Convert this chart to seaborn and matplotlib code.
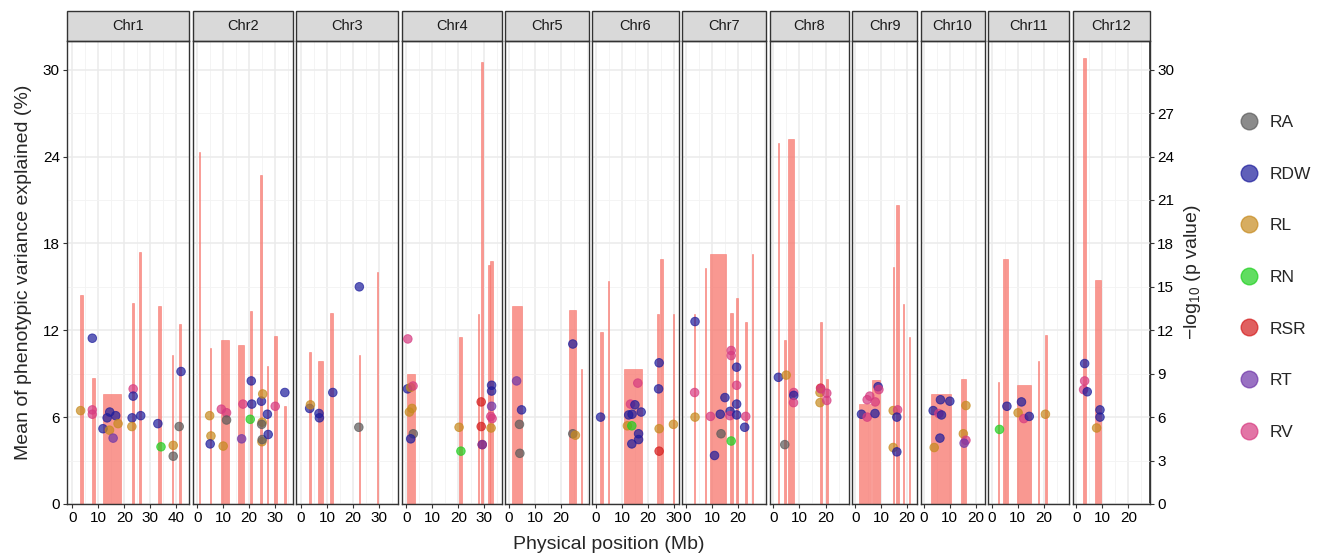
import numpy as np
import pandas as pd
import matplotlib
matplotlib.use("Agg")
import matplotlib.pyplot as plt
from matplotlib.patches import Rectangle
from matplotlib.lines import Line2D
from matplotlib.ticker import MultipleLocator
import seaborn as sns

# chromosomes and their length (Mb)
chroms = ["Chr1", "Chr2", "Chr3", "Chr4", "Chr5", "Chr6",
          "Chr7", "Chr8", "Chr9", "Chr10", "Chr11", "Chr12"]
chrom_len = [42.8, 35.1, 35.6, 35.0, 29.1, 30.4, 29.4, 27.6, 22.7, 22.4, 28.4, 27.0]

# QTL intervals: start / end (Mb) and -log10(p)
qtl_chr = (["Chr1"] * 8 + ["Chr2"] * 9 + ["Chr3"] * 5 + ["Chr4"] * 6 + ["Chr5"] * 3
           + ["Chr6"] * 6 + ["Chr7"] * 7 + ["Chr8"] * 5 + ["Chr9"] * 6 + ["Chr10"] * 2
           + ["Chr11"] * 5 + ["Chr12"] * 2)
qtl_start = [3.0, 7.6, 12.0, 23.0, 25.7, 32.8, 38.4, 41.1,
             0.6, 4.9, 9.0, 15.7, 20.4, 24.3, 26.9, 29.7, 33.4,
             2.9, 6.7, 11.3, 22.1, 29.0,
             0.1, 20.3, 27.5, 28.8, 31.6, 32.3,
             1.0, 23.2, 27.8,
             1.5, 4.5, 10.8, 23.4, 24.6, 29.5,
             3.0, 7.3, 9.0, 16.8, 19.1, 22.5, 25.2,
             1.6, 4.2, 5.7, 17.9, 20.0,
             1.3, 6.3, 14.7, 15.5, 18.3, 20.8,
             2.7, 14.5,
             2.2, 4.2, 9.7, 17.7, 20.5,
             2.4, 7.0]
qtl_end = [4.0, 8.6, 18.8, 23.8, 26.6, 34.1, 38.9, 41.9,
           1.2, 5.5, 12.2, 18.1, 21.2, 25.0, 27.4, 30.5, 34.0,
           3.7, 8.6, 12.3, 22.8, 29.5,
           3.4, 21.3, 28.0, 29.6, 32.3, 33.3,
           5.1, 25.6, 28.2,
           2.8, 5.0, 17.8, 24.3, 25.8, 30.2,
           3.5, 7.7, 15.4, 17.9, 20.0, 23.2, 25.6,
           2.0, 5.0, 7.8, 18.7, 21.0,
           5.9, 9.5, 15.1, 16.8, 18.8, 21.2,
           10.6, 16.5,
           2.9, 6.3, 15.0, 18.3, 21.4,
           3.8, 9.5]
qtl_logp = [14.4, 8.7, 7.6, 13.9, 17.4, 13.7, 10.3, 12.4,
            24.3, 10.8, 11.3, 11.0, 13.3, 22.7, 9.5, 11.6, 6.8,
            10.5, 9.9, 13.2, 10.3, 16.0,
            8.95, 11.55, 13.1, 30.5, 16.5, 16.75,
            13.65, 13.4, 9.3,
            11.85, 15.4, 9.3, 13.1, 16.95, 13.1,
            13.1, 16.3, 17.3, 13.2, 14.2, 12.6, 17.3,
            24.9, 11.35, 25.2, 12.55, 8.6,
            6.9, 8.55, 16.4, 20.65, 13.8, 11.55,
            7.6, 8.65,
            8.4, 16.9, 8.2, 9.9, 11.65,
            30.8, 15.5]

# associated SNPs: position (Mb), PVE (%) and trait
snp_chr = (["Chr1"] * 22 + ["Chr2"] * 22 + ["Chr3"] * 7 + ["Chr4"] * 20 + ["Chr5"] * 7
           + ["Chr6"] * 17 + ["Chr7"] * 19 + ["Chr8"] * 12 + ["Chr9"] * 13 + ["Chr10"] * 11
           + ["Chr11"] * 7 + ["Chr12"] * 7)
snp_pos = [3.2, 7.7, 7.7, 7.7, 11.8, 13.4, 14.4, 16.7, 14.3, 17.6, 15.7, 23.4, 23.4, 23.0, 22.9, 26.3, 32.9, 34.1, 38.8, 38.8, 41.1, 41.8,
           4.8, 5.3, 5.0, 10.0, 9.3, 11.3, 11.3, 17.1, 17.6, 20.4, 20.8, 21.0, 24.7, 25.2, 25.0, 24.8, 24.9, 25.0, 27.0, 27.3, 30.0, 33.7,
           3.3, 3.6, 6.9, 7.05, 12.2, 22.4, 22.2,
           0.6, 0.5, 1.7, 2.6, 1.2, 2.2, 2.7, 1.7, 20.3, 21.0, 28.8, 28.8, 29.2, 29.2, 32.8, 32.8, 32.8, 32.5, 33.0, 32.6,
           2.9, 4.8, 4.0, 4.15, 24.5, 24.5, 25.5,
           1.8, 13.3, 16.1, 15.0, 13.9, 12.6, 17.4, 12.1, 13.8, 16.4, 16.4, 13.8, 24.3, 24.1, 24.3, 24.3, 29.8,
           3.4, 3.25, 3.4, 9.35, 10.9, 13.4, 13.1, 14.9, 17.3, 17.3, 16.9, 16.8, 17.3, 19.4, 19.4, 19.4, 19.4, 22.5, 22.9,
           1.9, 4.9, 7.8, 7.8, 7.7, 4.35, 18.1, 17.9, 17.9, 20.5, 20.5, 18.2,
           2.4, 4.6, 5.6, 4.6, 7.7, 7.6, 8.8, 9.1, 14.6, 16.3, 16.0, 14.6, 16.0,
           3.7, 6.5, 10.1, 5.9, 6.9, 4.1, 6.3, 15.3, 16.3, 16.3, 15.6,
           2.95, 5.8, 11.4, 10.1, 12.3, 14.4, 20.6,
           3.2, 3.2, 2.8, 4.2, 9.1, 9.1, 7.8]
snp_pve = [6.45, 6.5, 6.2, 11.45, 5.2, 5.95, 6.35, 6.1, 5.1, 5.55, 4.55, 7.95, 7.45, 5.95, 5.35, 6.1, 5.55, 3.95, 4.05, 3.3, 5.35, 9.15,
           6.1, 4.7, 4.15, 4.0, 6.55, 6.3, 5.8, 4.5, 6.9, 5.85, 8.5, 6.9, 7.1, 7.6, 5.65, 5.5, 4.3, 4.45, 6.2, 4.8, 6.75, 7.7,
           6.6, 6.85, 6.25, 5.95, 7.7, 15.0, 5.3,
           11.4, 7.95, 8.05, 8.15, 6.35, 6.6, 4.85, 4.5, 5.3, 3.65, 7.05, 5.35, 4.1, 4.1, 8.2, 7.8, 6.75, 6.05, 5.9, 5.25,
           8.5, 6.5, 5.5, 3.5, 11.05, 4.85, 4.75,
           6.0, 6.9, 8.35, 6.85, 6.2, 6.15, 6.35, 5.4, 5.4, 4.85, 4.45, 4.15, 9.75, 7.95, 5.2, 3.65, 5.5,
           12.6, 7.7, 6.0, 6.05, 3.35, 4.85, 6.2, 7.35, 10.6, 10.25, 6.4, 6.1, 4.35, 9.45, 8.2, 6.9, 6.15, 5.3, 6.05,
           8.75, 8.9, 7.7, 7.5, 7.0, 4.1, 8.0, 7.7, 7.0, 7.65, 7.15, 7.95,
           6.2, 7.2, 7.45, 6.0, 7.05, 6.25, 8.1, 7.9, 6.45, 6.5, 6.0, 3.9, 3.6,
           6.45, 7.2, 7.1, 6.25, 6.15, 3.9, 4.55, 4.85, 6.8, 4.4, 4.2,
           5.15, 6.75, 7.05, 6.3, 5.9, 6.05, 6.2,
           9.7, 8.5, 7.9, 7.75, 6.5, 6.0, 5.25]
snp_trait = ["RL", "RV", "RV", "RDW", "RDW", "RDW", "RDW", "RDW", "RL", "RL", "RT", "RV", "RDW", "RDW", "RL", "RDW", "RDW", "RN", "RL", "RA", "RA", "RDW",
             "RL", "RL", "RDW", "RL", "RV", "RV", "RA", "RT", "RV", "RN", "RDW", "RDW", "RDW", "RL", "RL", "RA", "RL", "RA", "RDW", "RDW", "RV", "RDW",
             "RDW", "RL", "RDW", "RDW", "RDW", "RDW", "RA",
             "RV", "RDW", "RL", "RV", "RL", "RL", "RA", "RDW", "RL", "RN", "RSR", "RSR", "RSR", "RT", "RDW", "RDW", "RT", "RV", "RV", "RL",
             "RT", "RDW", "RA", "RA", "RDW", "RA", "RL",
             "RDW", "RV", "RV", "RDW", "RDW", "RDW", "RDW", "RL", "RN", "RDW", "RDW", "RDW", "RDW", "RDW", "RL", "RSR", "RL",
             "RDW", "RV", "RL", "RV", "RDW", "RA", "RDW", "RDW", "RV", "RV", "RDW", "RV", "RN", "RDW", "RV", "RDW", "RDW", "RDW", "RV",
             "RDW", "RL", "RV", "RDW", "RV", "RA", "RSR", "RL", "RL", "RV", "RV", "RV",
             "RDW", "RV", "RV", "RV", "RV", "RDW", "RDW", "RV", "RL", "RV", "RDW", "RL", "RDW",
             "RDW", "RDW", "RDW", "RV", "RDW", "RL", "RDW", "RL", "RL", "RV", "RT",
             "RN", "RDW", "RDW", "RL", "RV", "RDW", "RL",
             "RDW", "RV", "RV", "RDW", "RDW", "RDW", "RL"]

traits = ["RA", "RDW", "RL", "RN", "RSR", "RT", "RV"]
trait_colors = {"RA": "#5a5a5a", "RDW": "#1c1c9c", "RL": "#c68a1e", "RN": "#1ecf1e",
                "RSR": "#d41c1c", "RT": "#6e35a8", "RV": "#d63a80"}

qtl = pd.DataFrame({"chr": qtl_chr, "start": qtl_start, "end": qtl_end, "logp": qtl_logp})
snp = pd.DataFrame({"chr": snp_chr, "pos": snp_pos, "pve": snp_pve, "trait": snp_trait})

sns.set_theme(style="white")
plt.rcParams["font.family"] = ["Liberation Sans", "DejaVu Sans"]
plt.rcParams["mathtext.fontset"] = "custom"
plt.rcParams["mathtext.rm"] = "Liberation Sans"
plt.rcParams["mathtext.it"] = "Liberation Sans:italic"

fig = plt.figure(figsize=(13.21, 5.58), dpi=100)
gs = fig.add_gridspec(1, 12, left=0.0505, right=0.8706, bottom=0.0968, top=0.9271,
                      wspace=0.039, width_ratios=chrom_len)

for i, chrom in enumerate(chroms):
    ax = fig.add_subplot(gs[0, i])
    L = chrom_len[i]

    # QTL bars (thin edge so the narrow intervals stay visible)
    q = qtl[qtl["chr"] == chrom]
    ax.bar(q["start"], q["logp"], width=q["end"] - q["start"], align="edge",
           color="#F8766D", edgecolor="#F8766D", alpha=0.75, linewidth=0.5, zorder=2)

    # SNP points
    s = snp[snp["chr"] == chrom]
    sns.scatterplot(data=s, x="pos", y="pve", hue="trait", hue_order=traits,
                    palette=trait_colors, s=38, alpha=0.7, edgecolor="face",
                    linewidth=0.7, legend=False, ax=ax, zorder=3)

    # strip on top
    ax.add_patch(Rectangle((0, 1), 1, 0.0648, transform=ax.transAxes, clip_on=False,
                           facecolor="#D9D9D9", edgecolor="#333333", linewidth=1.0))
    ax.text(0.5, 1.0324, chrom, transform=ax.transAxes, ha="center", va="center",
            fontsize=10.5, color="#1a1a1a")

    ax.set_xlim(-0.05 * L, 1.05 * L)
    ax.set_ylim(0, 32)
    ax.set_xticks(np.arange(0, L, 10))
    ax.xaxis.set_minor_locator(MultipleLocator(5))
    ax.yaxis.set_major_locator(MultipleLocator(6))
    ax.yaxis.set_minor_locator(MultipleLocator(3))
    ax.set_axisbelow(True)
    ax.grid(which="major", color="#EBEBEB", linewidth=1.1)
    ax.grid(which="minor", color="#F3F3F3", linewidth=0.6)
    ax.set_xlabel("")
    ax.set_ylabel("")
    for sp in ax.spines.values():
        sp.set_visible(True)
        sp.set_color("#333333")
        sp.set_linewidth(1.0)
    ax.tick_params(axis="both", which="major", direction="out", length=3,
                   width=0.8, color="#333333", labelsize=11, labelcolor="black", pad=2)
    ax.tick_params(axis="both", which="minor", length=0)
    ax.tick_params(axis="x", bottom=True)

    if i == 0:
        ax.tick_params(axis="y", left=True)
        ax.set_ylabel("Mean of phenotypic variance explained (%)", fontsize=14, labelpad=8)
    else:
        ax.tick_params(axis="y", which="both", left=False, labelleft=False)

    if i == len(chroms) - 1:
        sec = ax.secondary_yaxis("right")
        sec.set_yticks(np.arange(0, 31, 3))
        sec.tick_params(direction="out", length=3, width=0.8, color="#333333",
                        labelsize=11, labelcolor="black", pad=2)
        sec.spines["right"].set_color("#333333")
        sec.set_ylabel("\u2212log$_{10}$ (p value)", fontsize=14, labelpad=6)

fig.text(0.4606, 0.024, "Physical position (Mb)", ha="center", va="center", fontsize=14)

handles = [Line2D([0], [0], marker="o", linestyle="", markersize=12, alpha=0.7,
                  markerfacecolor=trait_colors[t], markeredgecolor=trait_colors[t])
           for t in traits]
fig.legend(handles, traits, loc="center left", bbox_to_anchor=(0.932, 0.503),
           frameon=False, fontsize=12.5, labelspacing=2.1, handlelength=1.0,
           handletextpad=0.7, borderpad=0)

fig.savefig("out.png", dpi=100)
